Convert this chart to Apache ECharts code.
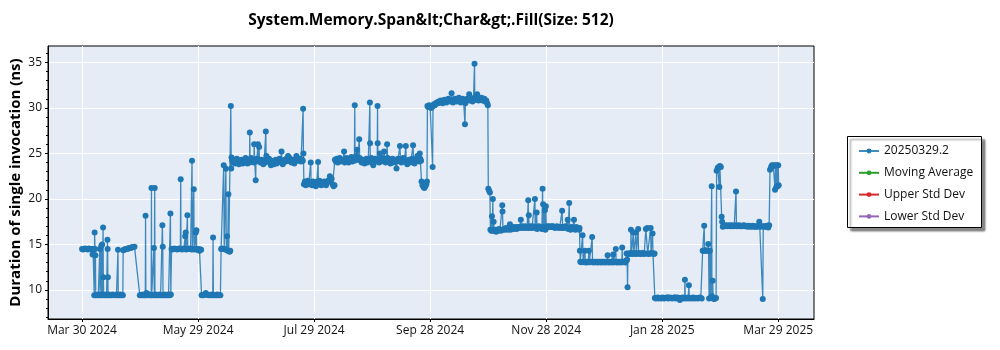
<!DOCTYPE html>
<html>
<head>
<meta charset="utf-8">
<title>System.Memory.Span&lt;Char&gt;.Fill(Size: 512)</title>
<script src="https://cdn.jsdelivr.net/npm/echarts@6/dist/echarts.min.js"></script>
<style>
  html, body { margin: 0; padding: 0; background: #ffffff; }
  #chart { width: 1000px; height: 350px; }
</style>
</head>
<body>
<div id="chart"></div>
<script>
// Benchmark history: [timestamp 'YYYY-MM-DD HH' (UTC), duration in ns]
const spring2024 = [
  ['2024-03-30 00',14.5],['2024-03-30 12',14.45],['2024-03-31 00',14.5],['2024-03-31 12',14.55],['2024-04-01 00',14.5],
  ['2024-04-01 12',14.5],['2024-04-02 00',14.45],['2024-04-02 12',14.55],['2024-04-03 00',14.5],['2024-04-03 12',14.5],
  ['2024-04-04 00',14.45],['2024-04-04 12',13.9],['2024-04-04 18',14.5],['2024-04-05 06',14.5],['2024-04-05 09',9.4],
  ['2024-04-05 14',16.3],['2024-04-05 18',14.5],['2024-04-06 00',13.8],['2024-04-06 04',9.4],
  ['2024-04-06 12',9.45],['2024-04-07 00',9.4],['2024-04-07 12',9.5],['2024-04-08 00',9.4],['2024-04-08 07',14.5],
  ['2024-04-08 10',9.45],['2024-04-08 20',9.4],['2024-04-09 02',14.85],['2024-04-09 06',9.5],['2024-04-09 12',15.0],
  ['2024-04-09 16',9.4],['2024-04-10 00',16.85],['2024-04-10 03',11.4],['2024-04-10 08',9.45],['2024-04-10 20',9.4],
  ['2024-04-11 08',9.5],['2024-04-11 20',9.4],['2024-04-12 04',9.45],['2024-04-12 07',15.5],['2024-04-12 09',14.5],
  ['2024-04-12 12',11.4],['2024-04-12 15',9.4],['2024-04-13 00',9.5],['2024-04-13 12',9.4],['2024-04-14 00',9.45],
  ['2024-04-14 12',9.4],['2024-04-15 00',9.5],['2024-04-15 12',9.45],['2024-04-16 00',9.4],['2024-04-16 12',9.45],
  ['2024-04-17 00',9.5],['2024-04-17 12',9.4],['2024-04-17 19',14.4],['2024-04-17 22',9.45],['2024-04-18 12',9.4],
  ['2024-04-19 00',9.5],['2024-04-19 12',9.4],['2024-04-20 00',9.45],['2024-04-20 08',9.4],
  ['2024-04-20 12',14.35],['2024-04-20 22',14.4],['2024-04-21 10',14.45],['2024-04-21 22',14.5],['2024-04-22 10',14.5],
  ['2024-04-22 22',14.55],['2024-04-23 10',14.55],['2024-04-23 22',14.6],['2024-04-24 10',14.6],['2024-04-24 22',14.65],
  ['2024-04-25 10',14.7],['2024-04-25 22',14.7],['2024-04-26 10',14.75],
  ['2024-04-29 05',9.4],['2024-04-29 18',9.45],['2024-04-30 06',9.4],['2024-04-30 18',9.5],['2024-05-01 06',9.4],
  ['2024-05-01 18',9.45],['2024-05-02 02',9.4],['2024-05-02 05',18.15],['2024-05-02 09',9.4],['2024-05-02 17',9.65],
  ['2024-05-03 06',9.45],['2024-05-03 18',9.4],['2024-05-04 06',9.5],['2024-05-04 18',9.4],['2024-05-05 04',9.45],
  ['2024-05-05 07',21.2],['2024-05-05 10',9.4],['2024-05-05 22',9.45],['2024-05-06 10',9.4],['2024-05-06 14',14.6],
  ['2024-05-06 18',9.45],['2024-05-07 00',21.2],['2024-05-07 03',9.4],['2024-05-07 14',9.5],['2024-05-08 02',9.4],
  ['2024-05-08 14',9.45],['2024-05-09 02',9.4],['2024-05-09 14',9.5],['2024-05-10 02',9.4],['2024-05-10 14',9.45],
  ['2024-05-10 22',9.4],['2024-05-11 00',17.1],['2024-05-11 05',14.75],['2024-05-11 08',9.45],['2024-05-11 18',9.4],
  ['2024-05-12 06',9.5],['2024-05-12 18',9.4],['2024-05-13 06',9.45],['2024-05-13 18',9.4],['2024-05-14 06',9.5],
  ['2024-05-14 18',9.4],['2024-05-15 02',9.45],['2024-05-15 05',18.4],['2024-05-15 10',9.5],
  ['2024-05-15 19',14.5],['2024-05-16 06',14.45],['2024-05-16 18',14.5],['2024-05-17 06',14.55],['2024-05-17 18',14.5],
  ['2024-05-18 06',14.5],['2024-05-18 18',14.45],['2024-05-19 06',14.5],['2024-05-19 18',14.55],['2024-05-20 10',14.5],
  ['2024-05-20 14',22.15],['2024-05-20 18',14.5],['2024-05-21 06',14.45],['2024-05-21 18',14.5],['2024-05-22 06',14.55],
  ['2024-05-22 18',14.5],['2024-05-22 22',15.9],['2024-05-23 02',14.5],['2024-05-23 05',16.3],['2024-05-23 10',14.45],
  ['2024-05-24 02',18.2],['2024-05-24 06',14.5],['2024-05-24 18',14.5],['2024-05-25 06',14.55],['2024-05-25 18',14.5],
  ['2024-05-26 08',14.45],['2024-05-26 12',24.2],['2024-05-26 16',14.5],['2024-05-27 06',14.5],['2024-05-27 10',21.05],
  ['2024-05-27 14',14.45],['2024-05-28 06',14.5],['2024-05-28 12',16.3],['2024-05-28 16',14.5],['2024-05-28 19',16.55],
  ['2024-05-28 22',14.45],['2024-05-29 10',14.4],['2024-05-29 22',14.5],['2024-05-30 10',14.3],['2024-05-30 22',14.45],
  ['2024-05-31 06',14.4],
  ['2024-05-31 12',9.4],['2024-06-01 00',9.45],['2024-06-01 12',9.4],['2024-06-02 00',9.5],['2024-06-02 17',9.65],
  ['2024-06-03 06',9.5],['2024-06-03 18',9.45],['2024-06-04 06',9.4],['2024-06-04 18',9.45],['2024-06-05 06',9.4],
  ['2024-06-05 18',9.5],['2024-06-06 08',9.4],['2024-06-06 12',15.75],['2024-06-06 16',9.45],['2024-06-07 06',9.4],
  ['2024-06-07 18',9.45],['2024-06-08 06',9.4],['2024-06-08 18',9.5],['2024-06-09 06',9.4],['2024-06-09 18',9.45],
  ['2024-06-10 08',9.4],
  ['2024-06-10 17',14.5],['2024-06-11 06',14.55],['2024-06-11 18',14.5],['2024-06-12 02',23.7],['2024-06-12 08',14.5],
  ['2024-06-12 20',14.45],['2024-06-13 05',23.3],['2024-06-13 10',14.4],['2024-06-13 19',15.9],['2024-06-14 04',14.3],
  ['2024-06-14 12',20.5],['2024-06-14 17',14.3],['2024-06-15 04',14.2],['2024-06-15 12',14.3],['2024-06-15 19',30.2],
  ['2024-06-16 00',23.35],['2024-06-16 04',24.55]
];

const summer2024 = [
  ['2024-06-16 12',24.2],['2024-06-17 00',24.0],['2024-06-17 12',24.3],['2024-06-18 00',23.9],['2024-06-18 12',24.1],
  ['2024-06-19 00',24.4],['2024-06-19 12',24.0],['2024-06-20 00',23.8],['2024-06-20 12',24.2],['2024-06-21 00',24.1],
  ['2024-06-21 12',24.3],['2024-06-22 00',23.9],['2024-06-22 12',24.0],['2024-06-23 00',24.2],['2024-06-23 12',24.5],
  ['2024-06-24 00',24.1],['2024-06-24 12',23.9],['2024-06-25 00',24.2],['2024-06-25 14',24.0],['2024-06-25 17',27.3],
  ['2024-06-25 20',24.3],['2024-06-26 08',24.5],['2024-06-26 20',24.1],['2024-06-27 08',24.3],['2024-06-27 20',24.0],
  ['2024-06-28 00',26.0],['2024-06-28 06',24.2],['2024-06-28 19',22.05],['2024-06-28 22',24.1],['2024-06-29 10',24.4],
  ['2024-06-29 22',24.2],['2024-06-30 00',26.0],['2024-06-30 06',24.3],['2024-06-30 14',25.7],['2024-06-30 18',24.2],
  ['2024-07-01 06',24.0],['2024-07-01 18',24.3],['2024-07-02 06',24.1],['2024-07-02 18',23.8],['2024-07-03 06',24.2],
  ['2024-07-03 18',24.0],['2024-07-04 02',27.4],['2024-07-04 06',24.3],['2024-07-04 10',24.7],['2024-07-04 18',24.2],
  ['2024-07-05 06',24.1],['2024-07-05 18',24.4],['2024-07-06 06',24.0],['2024-07-06 18',23.7],['2024-07-07 06',24.2],
  ['2024-07-07 18',24.0],['2024-07-08 06',23.8],['2024-07-08 18',24.1],['2024-07-09 06',24.3],['2024-07-09 18',23.9],
  ['2024-07-10 06',24.0],['2024-07-10 18',24.2],['2024-07-11 06',24.4],['2024-07-11 18',24.1],['2024-07-12 07',25.2],
  ['2024-07-12 12',24.2],['2024-07-12 22',23.8],['2024-07-13 10',24.0],['2024-07-13 22',24.3],['2024-07-14 10',24.1],
  ['2024-07-14 22',24.4],['2024-07-15 10',24.2],['2024-07-15 17',24.7],['2024-07-16 00',24.3],['2024-07-16 12',24.5],
  ['2024-07-17 00',24.1],['2024-07-17 12',24.0],['2024-07-18 00',24.3],['2024-07-18 12',24.1],['2024-07-19 00',23.9],
  ['2024-07-19 12',24.2],['2024-07-20 02',24.7],['2024-07-20 12',24.5],['2024-07-21 00',24.2],['2024-07-21 12',24.3],
  ['2024-07-22 00',24.4],['2024-07-22 12',24.1],['2024-07-23 00',24.3],['2024-07-23 10',24.2],['2024-07-23 14',29.9],
  ['2024-07-23 18',25.0],
  ['2024-07-24 00',21.6],['2024-07-24 12',21.9],['2024-07-25 00',21.5],['2024-07-25 12',21.7],['2024-07-26 00',22.0],
  ['2024-07-26 12',21.6],['2024-07-27 06',21.8],['2024-07-27 14',24.0],['2024-07-27 18',21.7],['2024-07-28 06',21.5],
  ['2024-07-28 18',21.9],['2024-07-29 06',21.6],['2024-07-29 18',21.8],['2024-07-30 06',21.4],['2024-07-30 18',21.7],
  ['2024-07-31 00',21.9],['2024-07-31 10',24.05],['2024-07-31 14',21.6],['2024-08-01 02',22.0],['2024-08-01 14',21.7],
  ['2024-08-02 02',21.5],['2024-08-02 14',21.8],['2024-08-03 02',21.6],['2024-08-03 14',21.9],['2024-08-04 02',21.7],
  ['2024-08-04 14',21.5],['2024-08-05 02',21.8],['2024-08-05 14',22.0],['2024-08-06 02',21.9],['2024-08-06 14',22.5],
  ['2024-08-07 00',22.1],['2024-08-07 12',22.2],['2024-08-08 00',21.6],['2024-08-08 12',21.4],['2024-08-09 00',21.5],
  ['2024-08-09 05',24.3],['2024-08-09 17',24.1],['2024-08-10 05',24.4],['2024-08-10 17',24.0],['2024-08-11 05',24.2],
  ['2024-08-11 17',24.5],['2024-08-12 05',24.1],['2024-08-12 17',24.3],['2024-08-13 08',24.2],['2024-08-14 00',25.2],
  ['2024-08-14 08',24.0],['2024-08-14 20',24.3],['2024-08-15 08',24.5],['2024-08-15 20',24.2],['2024-08-16 08',24.0],
  ['2024-08-16 20',24.3],['2024-08-17 08',24.2],['2024-08-17 20',24.6],['2024-08-18 08',24.1],['2024-08-18 20',24.3],
  ['2024-08-19 10',24.2],['2024-08-19 14',30.3],['2024-08-19 18',24.4],['2024-08-20 06',24.7],['2024-08-20 19',25.4],
  ['2024-08-21 04',24.3],['2024-08-21 22',26.55],['2024-08-22 04',24.5],['2024-08-22 16',24.2],['2024-08-23 04',24.0],
  ['2024-08-23 16',24.3],['2024-08-24 04',24.1],['2024-08-24 16',23.9],['2024-08-25 04',24.2],['2024-08-25 16',24.4],
  ['2024-08-26 04',24.0],['2024-08-26 16',24.3],['2024-08-27 08',24.1],['2024-08-27 12',30.6],['2024-08-27 14',26.1],
  ['2024-08-27 18',24.2],['2024-08-28 06',24.5],['2024-08-28 18',24.0],['2024-08-29 06',23.7],['2024-08-29 18',24.2],
  ['2024-08-30 06',24.4],['2024-08-30 18',24.1],['2024-08-31 08',24.3],['2024-08-31 12',30.2],['2024-08-31 14',26.1],
  ['2024-08-31 20',24.2],['2024-09-01 08',24.0],['2024-09-01 17',25.0],['2024-09-01 22',24.3],['2024-09-02 10',24.1],
  ['2024-09-02 22',24.5],['2024-09-03 10',24.2],['2024-09-03 22',25.2],['2024-09-04 06',24.4],['2024-09-04 18',24.0],
  ['2024-09-05 06',24.3],['2024-09-05 12',26.0],['2024-09-05 18',24.5],['2024-09-06 06',24.1],['2024-09-06 18',24.3],
  ['2024-09-07 06',23.9],['2024-09-07 18',24.2],['2024-09-08 06',24.4],['2024-09-08 18',24.0],['2024-09-09 06',24.2],
  ['2024-09-09 18',24.3],['2024-09-10 10',23.35],['2024-09-10 18',24.1],['2024-09-11 06',24.4],['2024-09-11 18',24.2],
  ['2024-09-12 05',25.8],['2024-09-12 12',24.3],['2024-09-13 00',24.0],['2024-09-13 12',24.2],['2024-09-14 00',24.5],
  ['2024-09-14 12',24.1],['2024-09-15 07',25.8],['2024-09-15 12',24.2],['2024-09-16 00',23.8],['2024-09-16 12',24.1],
  ['2024-09-17 00',24.3],['2024-09-17 12',24.0],['2024-09-18 00',24.2],['2024-09-18 12',24.4],['2024-09-19 02',25.9],
  ['2024-09-19 08',24.1],['2024-09-19 20',23.9],['2024-09-20 08',24.2],['2024-09-20 20',24.4],['2024-09-21 08',24.7],
  ['2024-09-21 20',24.3],['2024-09-22 08',24.1],['2024-09-22 14',25.0],['2024-09-22 20',24.4],['2024-09-23 06',24.2],
  ['2024-09-23 12',21.9],['2024-09-24 00',21.5],['2024-09-24 12',21.3],['2024-09-25 00',21.2],['2024-09-25 12',21.4],
  ['2024-09-26 00',21.6],['2024-09-26 08',21.9]
];

const autumn2024 = [
  ['2024-09-26 14',30.2],['2024-09-27 00',30.1],['2024-09-27 12',30.3],['2024-09-28 00',30.2],['2024-09-28 12',30.0],
  ['2024-09-29 00',30.1],['2024-09-29 07',23.5],['2024-09-29 12',30.2],['2024-09-30 00',30.4],['2024-09-30 12',30.3],
  ['2024-10-01 00',30.5],['2024-10-01 12',30.6],['2024-10-02 00',30.5],['2024-10-02 12',30.7],['2024-10-03 00',30.6],
  ['2024-10-03 12',30.8],['2024-10-04 00',30.7],['2024-10-04 12',30.5],['2024-10-05 00',30.8],['2024-10-05 12',30.9],
  ['2024-10-06 00',30.7],['2024-10-06 12',30.6],['2024-10-07 00',30.8],['2024-10-07 12',31.0],['2024-10-08 00',30.9],
  ['2024-10-08 12',30.7],['2024-10-09 05',31.6],['2024-10-09 12',30.8],['2024-10-10 00',30.6],['2024-10-10 12',30.9],
  ['2024-10-11 00',31.0],['2024-10-11 12',30.8],['2024-10-12 00',30.7],['2024-10-12 12',30.9],['2024-10-13 00',31.1],
  ['2024-10-13 12',30.8],['2024-10-14 00',30.6],['2024-10-14 12',30.9],['2024-10-15 00',31.0],['2024-10-15 12',30.7],
  ['2024-10-16 05',28.2],['2024-10-16 10',30.5],['2024-10-16 20',30.8],['2024-10-17 08',31.0],['2024-10-17 20',30.9],
  ['2024-10-18 10',31.5],['2024-10-18 16',30.8],['2024-10-19 04',31.1],['2024-10-19 16',30.9],['2024-10-20 04',30.7],
  ['2024-10-20 16',31.0],['2024-10-21 02',30.9],['2024-10-21 05',34.85],['2024-10-21 08',31.0],['2024-10-21 20',31.2],
  ['2024-10-22 08',30.9],['2024-10-22 14',31.5],['2024-10-22 20',31.1],['2024-10-23 08',30.8],['2024-10-23 20',31.0],
  ['2024-10-24 08',30.9],['2024-10-24 20',31.1],['2024-10-25 08',30.8],['2024-10-25 20',30.9],['2024-10-26 08',31.0],
  ['2024-10-26 20',30.7],['2024-10-27 08',30.8],['2024-10-27 20',30.5],['2024-10-28 04',30.3],
  ['2024-10-28 10',21.1],['2024-10-28 20',20.9],['2024-10-29 06',20.7],['2024-10-29 12',16.6],['2024-10-30 00',16.5],
  ['2024-10-30 08',18.1],['2024-10-30 12',16.5],['2024-10-30 19',20.0],['2024-10-30 22',16.6],['2024-10-31 05',17.5],
  ['2024-10-31 12',16.5],['2024-11-01 00',16.6],['2024-11-01 12',16.4],['2024-11-02 00',16.6],['2024-11-02 12',16.5],
  ['2024-11-03 00',16.7],['2024-11-03 12',16.6],['2024-11-04 00',16.5],['2024-11-04 17',19.3],['2024-11-04 20',18.6],
  ['2024-11-05 02',16.6],['2024-11-05 14',16.7],['2024-11-06 02',16.6],['2024-11-06 14',16.8],['2024-11-07 02',16.7],
  ['2024-11-07 14',16.6],['2024-11-08 06',16.8],['2024-11-08 17',17.2],['2024-11-09 02',16.6],['2024-11-09 14',16.9],
  ['2024-11-10 06',16.8],['2024-11-10 18',16.7],['2024-11-11 06',16.9],['2024-11-11 18',16.8],['2024-11-12 06',16.7],
  ['2024-11-12 18',16.9],['2024-11-13 06',16.8],['2024-11-13 18',16.9],['2024-11-14 04',16.9],['2024-11-14 10',17.7],
  ['2024-11-14 16',16.8],['2024-11-15 04',17.0],['2024-11-15 16',16.9],['2024-11-16 04',16.8],['2024-11-16 16',17.0],
  ['2024-11-17 04',16.9],['2024-11-17 16',16.8],['2024-11-18 04',16.9],['2024-11-18 07',19.85],['2024-11-18 10',16.9],
  ['2024-11-18 14',18.2],['2024-11-18 18',16.8],['2024-11-19 06',17.0],['2024-11-19 18',16.9],['2024-11-20 06',16.8],
  ['2024-11-20 18',17.0],['2024-11-21 06',16.9],['2024-11-21 19',20.0],['2024-11-21 22',16.8],['2024-11-22 10',16.9],
  ['2024-11-22 17',18.5],['2024-11-22 22',16.7],['2024-11-23 10',16.9],['2024-11-23 22',17.0],['2024-11-24 10',16.8],
  ['2024-11-24 22',16.9],['2024-11-25 10',16.7],['2024-11-25 19',21.1],['2024-11-25 22',16.8],['2024-11-26 02',19.4],
  ['2024-11-26 08',16.9],['2024-11-26 20',16.7],['2024-11-27 00',18.75],['2024-11-27 06',16.6],['2024-11-27 12',19.2],
  ['2024-11-27 18',16.8],['2024-11-28 06',17.0],['2024-11-28 18',16.9],['2024-11-29 06',17.0],['2024-11-29 18',16.9],
  ['2024-11-30 06',16.9],['2024-11-30 12',17.0],['2024-11-30 18',16.9],['2024-12-01 06',17.0],['2024-12-01 18',16.9],
  ['2024-12-02 06',16.8],['2024-12-02 18',16.9],['2024-12-03 06',17.0],['2024-12-03 18',16.9],['2024-12-04 06',16.8],
  ['2024-12-04 18',16.9],['2024-12-05 06',16.9],['2024-12-05 18',16.8],['2024-12-06 00',18.7],['2024-12-06 06',16.9],
  ['2024-12-06 18',16.8],['2024-12-07 06',16.9],['2024-12-07 18',17.0],['2024-12-08 06',16.8],['2024-12-08 22',17.7],
  ['2024-12-09 06',16.7],['2024-12-09 17',19.55],['2024-12-09 22',16.8],['2024-12-10 10',16.6],['2024-12-10 22',16.9],
  ['2024-12-11 10',16.7],['2024-12-12 05',17.7],['2024-12-12 10',16.8],['2024-12-12 22',16.6],['2024-12-13 10',16.9],
  ['2024-12-13 22',16.7],['2024-12-14 10',16.8],['2024-12-14 22',16.6],['2024-12-15 02',16.8]
];

const winter2025 = [
  ['2024-12-15 07',14.3],['2024-12-15 12',13.1],['2024-12-16 00',13.05],['2024-12-16 17',16.0],['2024-12-17 00',13.1],
  ['2024-12-17 12',13.05],['2024-12-17 22',14.3],['2024-12-18 04',13.1],['2024-12-18 16',13.0],['2024-12-19 04',13.1],
  ['2024-12-19 16',13.05],['2024-12-20 00',14.3],['2024-12-20 06',13.1],['2024-12-20 18',13.05],['2024-12-21 06',13.1],
  ['2024-12-21 17',15.8],['2024-12-21 22',13.1],['2024-12-22 10',13.0],['2024-12-22 22',13.1],['2024-12-23 10',13.05],
  ['2024-12-23 22',13.1],['2024-12-24 10',13.0],['2024-12-24 22',13.1],['2024-12-25 10',13.05],['2024-12-25 22',13.1],
  ['2024-12-26 10',13.0],['2024-12-26 22',13.1],['2024-12-27 10',13.05],['2024-12-27 22',13.1],['2024-12-28 10',13.0],
  ['2024-12-28 22',13.1],['2024-12-29 10',13.05],['2024-12-29 19',13.8],['2024-12-30 00',13.1],['2024-12-30 12',13.0],
  ['2024-12-31 00',13.1],['2024-12-31 12',13.05],['2025-01-01 00',13.1],['2025-01-01 12',13.0],['2025-01-01 17',13.9],
  ['2025-01-01 22',13.1],['2025-01-02 10',13.05],['2025-01-02 22',13.1],['2025-01-03 02',14.5],['2025-01-03 06',13.1],
  ['2025-01-03 18',13.0],['2025-01-04 06',13.1],['2025-01-04 18',13.05],['2025-01-05 06',13.1],['2025-01-05 18',13.0],
  ['2025-01-06 06',13.1],['2025-01-06 10',14.65],['2025-01-06 14',13.1],['2025-01-07 02',13.05],['2025-01-07 14',13.1],
  ['2025-01-08 02',13.0],['2025-01-08 10',13.2],['2025-01-08 17',14.0],['2025-01-09 00',13.3],['2025-01-09 05',10.3],
  ['2025-01-09 10',14.0],['2025-01-09 22',13.95],['2025-01-10 10',14.0],['2025-01-10 22',14.05],['2025-01-11 00',16.6],
  ['2025-01-11 06',14.0],['2025-01-11 18',13.95],['2025-01-12 05',16.3],['2025-01-12 10',14.0],['2025-01-12 22',14.05],
  ['2025-01-13 08',14.0],['2025-01-13 14',16.3],['2025-01-13 18',13.95],['2025-01-14 06',14.0],['2025-01-14 19',16.7],
  ['2025-01-14 23',14.0],['2025-01-15 10',14.05],['2025-01-15 22',13.95],['2025-01-16 10',14.0],['2025-01-16 22',14.0],
  ['2025-01-17 10',14.05],['2025-01-17 22',13.95],['2025-01-18 10',14.0],['2025-01-18 19',16.7],['2025-01-19 12',16.8],
  ['2025-01-19 18',14.0],['2025-01-20 06',13.95],['2025-01-20 18',14.0],['2025-01-21 07',16.8],['2025-01-21 12',14.0],
  ['2025-01-22 00',14.05],['2025-01-22 07',16.2],['2025-01-22 12',14.0],['2025-01-23 00',13.95],['2025-01-23 08',14.0],
  ['2025-01-23 12',9.1],['2025-01-24 00',9.05],['2025-01-24 12',9.1],['2025-01-25 00',9.15],['2025-01-25 12',9.05],
  ['2025-01-26 00',9.1],['2025-01-26 12',9.1],['2025-01-27 00',9.05],['2025-01-27 12',9.15],['2025-01-28 00',9.1],
  ['2025-01-28 12',9.05],['2025-01-29 00',9.1],['2025-01-29 12',9.1],['2025-01-30 00',9.2],['2025-01-30 12',9.05],
  ['2025-01-31 00',9.1],['2025-01-31 12',9.15],['2025-02-01 00',9.1],['2025-02-01 12',9.05],['2025-02-02 00',9.1],
  ['2025-02-02 12',9.1],['2025-02-02 22',9.2],['2025-02-03 10',9.05],['2025-02-03 22',9.1],['2025-02-04 10',9.15],
  ['2025-02-04 22',9.05],['2025-02-05 14',8.9],['2025-02-06 00',9.05],['2025-02-06 12',9.1],['2025-02-07 00',9.15],
  ['2025-02-07 12',9.05],['2025-02-08 02',9.1],['2025-02-08 05',11.1],['2025-02-08 10',9.1],['2025-02-08 22',9.05],
  ['2025-02-09 10',9.1],['2025-02-09 22',9.15],['2025-02-10 04',9.1],['2025-02-10 07',10.5],['2025-02-10 12',9.05],
  ['2025-02-11 00',9.1],['2025-02-11 12',9.1],['2025-02-12 00',9.05],['2025-02-12 12',9.15],['2025-02-13 00',9.1],
  ['2025-02-13 12',9.05],['2025-02-14 00',9.1],['2025-02-14 12',9.1],['2025-02-15 00',9.05],['2025-02-15 12',9.1],
  ['2025-02-16 00',9.15],['2025-02-16 12',9.1],['2025-02-17 00',9.05],
  ['2025-02-17 12',14.3],['2025-02-18 00',14.3],['2025-02-18 07',17.05],['2025-02-18 12',14.3],['2025-02-19 00',14.35],
  ['2025-02-19 12',14.3],['2025-02-20 06',14.3],['2025-02-20 10',15.05],['2025-02-20 14',14.3],['2025-02-20 20',9.05],
  ['2025-02-21 06',14.3],['2025-02-21 14',9.1],['2025-02-22 05',21.4],['2025-02-22 08',9.3],['2025-02-22 17',11.0],
  ['2025-02-23 00',9.05],['2025-02-23 12',9.0],['2025-02-24 00',9.05],['2025-02-24 12',9.1],['2025-02-24 19',23.1],
  ['2025-02-25 08',23.4],['2025-02-25 20',23.5],['2025-02-26 05',21.3],['2025-02-26 12',23.6],['2025-02-27 00',23.5],
  ['2025-02-27 10',18.05],['2025-02-27 16',17.5],['2025-02-28 00',16.95],
  ['2025-02-28 12',17.05],['2025-03-01 00',17.0],['2025-03-01 12',17.1],['2025-03-02 00',17.05],['2025-03-02 12',17.0],
  ['2025-03-03 00',17.1],['2025-03-03 12',17.05],['2025-03-04 00',17.0],['2025-03-04 12',17.1],['2025-03-05 00',17.05],
  ['2025-03-05 12',17.0],['2025-03-06 00',17.05],['2025-03-06 12',17.1],['2025-03-06 22',20.8],['2025-03-07 04',17.05],
  ['2025-03-07 12',17.0],['2025-03-08 00',17.05],['2025-03-08 12',17.1],['2025-03-09 00',17.0],['2025-03-09 12',17.05],
  ['2025-03-10 00',17.0],['2025-03-10 12',17.05],['2025-03-11 00',17.1],['2025-03-11 12',17.0],['2025-03-12 00',17.05],
  ['2025-03-12 12',17.0],['2025-03-13 00',16.95],['2025-03-13 12',17.05],['2025-03-14 00',17.0],['2025-03-14 12',16.95],
  ['2025-03-15 00',17.0],['2025-03-15 12',17.05],['2025-03-16 00',16.95],['2025-03-16 12',17.0],['2025-03-17 00',16.95],
  ['2025-03-17 12',17.0],['2025-03-18 00',16.95],['2025-03-18 12',17.0],['2025-03-19 02',17.5],['2025-03-19 08',17.0],
  ['2025-03-19 20',16.95],['2025-03-20 08',17.0],['2025-03-20 22',9.0],['2025-03-21 04',17.0],['2025-03-21 16',16.95],
  ['2025-03-22 04',17.0],['2025-03-22 16',16.95],['2025-03-23 04',17.05],['2025-03-23 19',16.85],['2025-03-24 06',17.1],
  ['2025-03-24 17',23.2],['2025-03-25 06',23.5],['2025-03-25 18',23.7],['2025-03-26 10',23.7],['2025-03-26 20',23.6],
  ['2025-03-27 08',21.0],['2025-03-27 14',23.7],['2025-03-28 00',21.3],['2025-03-28 08',23.7],['2025-03-28 16',21.4],
  ['2025-03-29 00',23.7],['2025-03-29 06',21.5]
];

const seriesNames = ['20250329.2', 'Moving Average', 'Upper Std Dev', 'Lower Std Dev'];
const seriesColors = ['#1f77b4', '#2ca02c', '#d62728', '#9467bd'];
const xTickLabels = ['Mar 30 2024', 'May 29 2024', 'Jul 29 2024', 'Sep 28 2024', 'Nov 28 2024', 'Jan 28 2025', 'Mar 29 2025'];
const yTickValues = [10, 15, 20, 25, 30, 35];
const yMinorTickValues = [7, 8, 9, 11, 12, 13, 14, 16, 17, 18, 19, 21, 22, 23, 24, 26, 27, 28, 29, 31, 32, 33, 34, 36];

const DAY = 24 * 3600 * 1000;
function parseStamp(s) {
  const [d, h] = s.split(' ');
  const [y, m, dd] = d.split('-').map(Number);
  return Date.UTC(y, m - 1, dd) + (Number(h) || 0) * 3600 * 1000;
}
const toPoints = rows => rows.map(r => [parseStamp(r[0]), r[1]]);
const history = [].concat(toPoints(spring2024), toPoints(summer2024), toPoints(autumn2024), toPoints(winter2025));

// Date ticks are spread evenly between the first and last labelled dates
const firstTick = Date.UTC(2024, 2, 30);
const lastTick = Date.UTC(2025, 2, 29);
const tickStep = (lastTick - firstTick) / (xTickLabels.length - 1);
const xTickValues = xTickLabels.map((_, i) => firstTick + i * tickStep);

const FONT = "'Open Sans', 'Noto Sans', sans-serif";

const chart = echarts.init(document.getElementById('chart'), null, { renderer: 'canvas' });
chart.setOption({
  animation: false,
  backgroundColor: '#ffffff',
  title: {
    text: 'System.Memory.Span&lt;Char&gt;.Fill(Size: 512)',
    left: 426,
    textAlign: 'center',
    top: 8,
    textStyle: { fontFamily: FONT, fontSize: 15.5, fontWeight: 'bold', color: '#000' }
  },
  grid: {
    left: 48, right: 186, top: 46, bottom: 31,
    show: true,
    backgroundColor: '#e5ecf6',
    borderColor: '#000',
    borderWidth: 1,
    outerBoundsMode: 'none'
  },
  graphic: [{
    type: 'rect',
    z: 1,
    shape: { x: 847.5, y: 136.5, width: 134, height: 91 },
    style: {
      fill: '#ffffff', stroke: '#000000', lineWidth: 1,
      shadowColor: 'rgba(0,0,0,0.45)', shadowOffsetX: 3, shadowOffsetY: 3, shadowBlur: 2
    }
  }],
  legend: {
    z: 5,
    orient: 'vertical',
    left: 858,
    top: 145,
    padding: 0,
    itemWidth: 20,
    itemHeight: 6,
    itemGap: 9.8,
    textStyle: { fontFamily: FONT, fontSize: 12, color: '#111' },
    data: seriesNames
  },
  xAxis: {
    type: 'value',
    min: firstTick - 17.8 * DAY,
    max: firstTick + 382.7 * DAY,
    axisLine: { show: true, lineStyle: { color: '#000', width: 1 } },
    axisTick: { show: true, length: 3, customValues: xTickValues, lineStyle: { color: '#000' } },
    axisLabel: {
      customValues: xTickValues,
      margin: 6,
      fontFamily: FONT, fontSize: 12, color: '#111',
      formatter: v => {
        let best = 0;
        xTickValues.forEach((t, i) => { if (Math.abs(t - v) < Math.abs(xTickValues[best] - v)) best = i; });
        return xTickLabels[best];
      }
    },
    splitLine: { show: true, lineStyle: { color: '#ffffff', width: 1 } },
    minorTick: { show: false }
  },
  yAxis: [{
    type: 'value',
    min: 6.8,
    max: 36.8,
    name: 'Duration of single invocation (ns)',
    nameLocation: 'middle',
    nameGap: 25,
    nameMoveOverlap: false,
    nameTextStyle: { fontFamily: FONT, fontSize: 15, fontWeight: 'bold', color: '#000' },
    axisLine: { show: true, lineStyle: { color: '#000', width: 1 } },
    axisTick: { show: true, length: 3, customValues: yTickValues, lineStyle: { color: '#000' } },
    axisLabel: { customValues: yTickValues, margin: 6, fontFamily: FONT, fontSize: 12, color: '#111' },
    splitLine: { show: true, lineStyle: { color: '#ffffff', width: 1 } }
  }, {
    type: 'value',
    min: 6.8,
    max: 36.8,
    position: 'left',
    offset: 0,
    axisLine: { show: false },
    axisTick: { show: true, length: 2, customValues: yMinorTickValues, lineStyle: { color: '#000' } },
    axisLabel: { show: false },
    splitLine: { show: false }
  }],
  series: [
    {
      name: seriesNames[0],
      type: 'line',
      data: history,
      color: seriesColors[0],
      symbol: 'circle',
      symbolSize: 6,
      showSymbol: true,
      showAllSymbol: true,
      lineStyle: { width: 1.3, opacity: 0.85 },
      itemStyle: { color: seriesColors[0] },
      z: 3
    },
    { name: seriesNames[1], type: 'line', data: [], color: seriesColors[1], symbol: 'circle', itemStyle: { color: seriesColors[1] }, lineStyle: { width: 1.3 } },
    { name: seriesNames[2], type: 'line', data: [], color: seriesColors[2], symbol: 'circle', itemStyle: { color: seriesColors[2] }, lineStyle: { width: 1.3 } },
    { name: seriesNames[3], type: 'line', data: [], color: seriesColors[3], symbol: 'circle', itemStyle: { color: seriesColors[3] }, lineStyle: { width: 1.3 } }
  ]
});
</script>
</body>
</html>
